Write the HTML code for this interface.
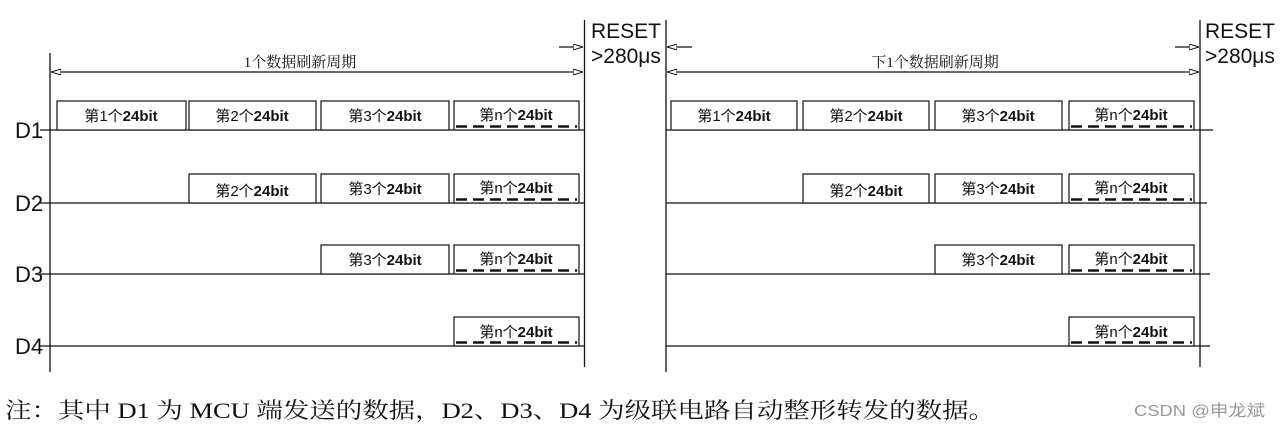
<!DOCTYPE html>
<html><head><meta charset="utf-8"><style>
html,body{margin:0;padding:0;background:#fff;width:1281px;height:426px;overflow:hidden}
svg{display:block}
.b{fill:#fff;stroke:#222;stroke-width:1.3}
.l{stroke:#111;stroke-width:1.3}
.t{font-family:"Liberation Sans","Noto Sans CJK SC",sans-serif;font-size:15px;fill:#111;text-anchor:middle}
.t tspan{font-weight:bold}
.d{stroke:#111;stroke-width:2.6;stroke-dasharray:11,6}
.lab{font-family:"Liberation Sans",sans-serif;font-size:22px;fill:#111}
.rs{font-family:"Liberation Sans",sans-serif;font-size:21px;fill:#111}
.cap{font-family:"Liberation Serif","Noto Serif CJK SC",serif;font-size:15px;fill:#111;text-anchor:middle}
</style></head><body>
<svg width="1281" height="426" viewBox="0 0 1281 426" xmlns="http://www.w3.org/2000/svg">
<defs>
<marker id="ae" markerWidth="10" markerHeight="6" refX="10" refY="3" orient="auto" markerUnits="userSpaceOnUse"><path d="M0,0 L10,3 L0,6 Z" fill="#fff" stroke="#111" stroke-width="1"/></marker>
<marker id="as" markerWidth="10" markerHeight="6" refX="0" refY="3" orient="auto" markerUnits="userSpaceOnUse"><path d="M10,0 L0,3 L10,6 Z" fill="#fff" stroke="#111" stroke-width="1"/></marker>
</defs>
<line class="l" x1="50" y1="53" x2="50" y2="372"/>
<line class="l" x1="584.5" y1="20" x2="584.5" y2="367"/>
<line class="l" x1="666" y1="20" x2="666" y2="372"/>
<line class="l" x1="1200" y1="20" x2="1200" y2="367"/>
<line class="l" x1="51" y1="72" x2="583" y2="72" marker-start="url(#as)" marker-end="url(#ae)"/>
<line class="l" x1="559" y1="47" x2="583" y2="47" marker-end="url(#ae)"/>
<line class="l" x1="667" y1="72" x2="1199" y2="72" marker-start="url(#as)" marker-end="url(#ae)"/>
<line class="l" x1="667" y1="47" x2="692" y2="47" marker-start="url(#as)"/>
<line class="l" x1="1175" y1="47" x2="1199" y2="47" marker-end="url(#ae)"/>
<text class="cap" x="300" y="67">1个数据刷新周期</text>
<text class="cap" x="935" y="67">下1个数据刷新周期</text>
<text class="rs" x="591" y="38">RESET</text>
<text class="rs" x="591" y="63">&gt;280μs</text>
<text class="rs" x="1205" y="38">RESET</text>
<text class="rs" x="1205" y="63">&gt;280μs</text>
<text class="lab" x="15" y="138">D1</text>
<text class="lab" x="15" y="211">D2</text>
<text class="lab" x="15" y="282">D3</text>
<text class="lab" x="15" y="354">D4</text>
<line class="l" x1="40" y1="130" x2="585" y2="130"/>
<line class="l" x1="40" y1="203" x2="585" y2="203"/>
<line class="l" x1="40" y1="274" x2="585" y2="274"/>
<line class="l" x1="40" y1="346" x2="585" y2="346"/>
<line class="l" x1="666" y1="130" x2="1213" y2="130"/>
<line class="l" x1="666" y1="203" x2="1207" y2="203"/>
<line class="l" x1="666" y1="274" x2="1210" y2="274"/>
<line class="l" x1="666" y1="346" x2="1210" y2="346"/>
<rect class="b" x="57" y="101" width="129" height="29"/><text class="t" x="121" y="121">第1个<tspan>24bit</tspan></text>
<rect class="b" x="189" y="101" width="127" height="29"/><text class="t" x="252" y="121">第2个<tspan>24bit</tspan></text>
<rect class="b" x="321" y="101" width="128" height="29"/><text class="t" x="385" y="121">第3个<tspan>24bit</tspan></text>
<rect class="b" x="454" y="101" width="125" height="29"/><text class="t" x="516" y="120">第n个<tspan>24bit</tspan></text><line class="d" x1="456" y1="126.5" x2="577" y2="126.5"/>
<rect class="b" x="189" y="174" width="127" height="29"/><text class="t" x="252" y="196">第2个<tspan>24bit</tspan></text>
<rect class="b" x="321" y="174" width="128" height="29"/><text class="t" x="385" y="194">第3个<tspan>24bit</tspan></text>
<rect class="b" x="454" y="174" width="125" height="29"/><text class="t" x="516" y="193">第n个<tspan>24bit</tspan></text><line class="d" x1="456" y1="199.5" x2="577" y2="199.5"/>
<rect class="b" x="321" y="245" width="128" height="29"/><text class="t" x="385" y="265">第3个<tspan>24bit</tspan></text>
<rect class="b" x="454" y="245" width="125" height="29"/><text class="t" x="516" y="264">第n个<tspan>24bit</tspan></text><line class="d" x1="456" y1="270.5" x2="577" y2="270.5"/>
<rect class="b" x="454" y="317" width="125" height="29"/><text class="t" x="516" y="337">第n个<tspan>24bit</tspan></text><line class="d" x1="456" y1="342.5" x2="577" y2="342.5"/>
<rect class="b" x="671" y="101" width="126" height="29"/><text class="t" x="734" y="121">第1个<tspan>24bit</tspan></text>
<rect class="b" x="803" y="101" width="126" height="29"/><text class="t" x="866" y="121">第2个<tspan>24bit</tspan></text>
<rect class="b" x="935" y="101" width="127" height="29"/><text class="t" x="998" y="121">第3个<tspan>24bit</tspan></text>
<rect class="b" x="1069" y="101" width="125" height="29"/><text class="t" x="1131" y="120">第n个<tspan>24bit</tspan></text><line class="d" x1="1071" y1="126.5" x2="1192" y2="126.5"/>
<rect class="b" x="803" y="174" width="126" height="29"/><text class="t" x="866" y="196">第2个<tspan>24bit</tspan></text>
<rect class="b" x="935" y="174" width="127" height="29"/><text class="t" x="998" y="194">第3个<tspan>24bit</tspan></text>
<rect class="b" x="1069" y="174" width="125" height="29"/><text class="t" x="1131" y="193">第n个<tspan>24bit</tspan></text><line class="d" x1="1071" y1="199.5" x2="1192" y2="199.5"/>
<rect class="b" x="935" y="245" width="127" height="29"/><text class="t" x="998" y="265">第3个<tspan>24bit</tspan></text>
<rect class="b" x="1069" y="245" width="125" height="29"/><text class="t" x="1131" y="264">第n个<tspan>24bit</tspan></text><line class="d" x1="1071" y1="270.5" x2="1192" y2="270.5"/>
<rect class="b" x="1069" y="317" width="125" height="29"/><text class="t" x="1131" y="337">第n个<tspan>24bit</tspan></text><line class="d" x1="1071" y1="342.5" x2="1192" y2="342.5"/>
<text x="5" y="418" textLength="990" lengthAdjust="spacingAndGlyphs" style="font-family:'Liberation Serif','Noto Serif CJK SC',serif;font-size:22px;fill:#111">注：其中 D1 为 MCU 端发送的数据，D2、D3、D4 为级联电路自动整形转发的数据。</text>
<text x="1134" y="416" textLength="131" lengthAdjust="spacingAndGlyphs" style="font-family:'Liberation Sans','Noto Sans CJK SC',sans-serif;font-size:16px;fill:#999">CSDN @申龙斌</text>
</svg>
</body></html>
